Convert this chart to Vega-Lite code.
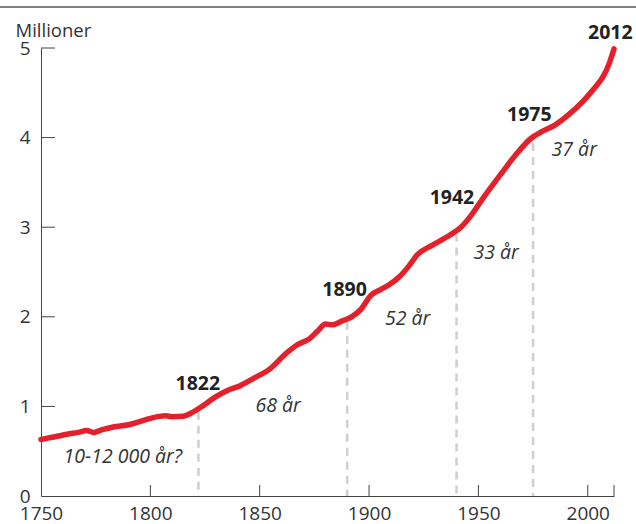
{
  "$schema": "https://vega.github.io/schema/vega-lite/v6.json",
  "width": 573,
  "height": 448,
  "autosize": {"type": "none"},
  "padding": {"left": 41, "top": 48, "right": 22, "bottom": 28},
  "background": "white",
  "config": {
    "view": {"stroke": null},
    "font": "Open Sans",
    "axis": {"labelFont": "Open Sans", "titleFont": "Open Sans", "grid": false}
  },
  "datasets": {
    "pop": [
      {"year": 1750, "value": 0.63},
      {"year": 1755, "value": 0.655},
      {"year": 1762, "value": 0.69},
      {"year": 1767, "value": 0.71},
      {"year": 1771, "value": 0.73},
      {"year": 1774, "value": 0.71},
      {"year": 1778, "value": 0.74},
      {"year": 1783, "value": 0.77},
      {"year": 1790, "value": 0.795},
      {"year": 1795, "value": 0.83},
      {"year": 1800, "value": 0.867},
      {"year": 1807, "value": 0.895},
      {"year": 1810, "value": 0.885},
      {"year": 1815, "value": 0.89},
      {"year": 1819, "value": 0.93},
      {"year": 1823, "value": 0.99},
      {"year": 1830, "value": 1.108},
      {"year": 1835, "value": 1.175},
      {"year": 1841, "value": 1.23},
      {"year": 1847, "value": 1.31},
      {"year": 1855, "value": 1.425},
      {"year": 1862, "value": 1.59},
      {"year": 1867, "value": 1.685},
      {"year": 1873, "value": 1.76},
      {"year": 1877, "value": 1.853},
      {"year": 1880, "value": 1.92},
      {"year": 1883, "value": 1.91},
      {"year": 1888, "value": 1.957},
      {"year": 1892, "value": 2.0},
      {"year": 1896, "value": 2.076},
      {"year": 1901, "value": 2.243},
      {"year": 1905, "value": 2.3},
      {"year": 1909, "value": 2.355},
      {"year": 1914, "value": 2.45},
      {"year": 1918, "value": 2.56},
      {"year": 1922, "value": 2.69},
      {"year": 1929, "value": 2.8},
      {"year": 1937, "value": 2.913},
      {"year": 1942, "value": 3.0},
      {"year": 1946, "value": 3.11},
      {"year": 1952, "value": 3.32},
      {"year": 1960, "value": 3.583},
      {"year": 1967, "value": 3.806},
      {"year": 1974, "value": 3.99},
      {"year": 1979, "value": 4.066},
      {"year": 1985, "value": 4.14},
      {"year": 1991, "value": 4.25},
      {"year": 1998, "value": 4.41},
      {"year": 2003, "value": 4.55},
      {"year": 2007, "value": 4.68},
      {"year": 2010, "value": 4.84},
      {"year": 2012, "value": 4.99}
    ],
    "drops": [
      {"year": 1822, "top": 0.94, "base": 0},
      {"year": 1890, "top": 1.945, "base": 0},
      {"year": 1940, "top": 2.93, "base": 0},
      {"year": 1975, "top": 3.94, "base": 0}
    ],
    "labels": [
      {"year": 1821.7, "value": 1.25, "text": "1822", "kind": "year"},
      {"year": 1888.8, "value": 2.3, "text": "1890", "kind": "year"},
      {"year": 1937.9, "value": 3.33, "text": "1942", "kind": "year"},
      {"year": 1973.3, "value": 4.25, "text": "1975", "kind": "year"},
      {"year": 2010.3, "value": 5.17, "text": "2012", "kind": "year"},
      {"year": 1858.4, "value": 1.0, "text": "68 år", "kind": "span"},
      {"year": 1917.6, "value": 1.97, "text": "52 år", "kind": "span"},
      {"year": 1958.1, "value": 2.71, "text": "33 år", "kind": "span"},
      {"year": 1993.8, "value": 3.86, "text": "37 år", "kind": "span"},
      {"year": 1787.4, "value": 0.435, "text": "10-12 000 år?", "kind": "span"}
    ],
    "xticks": [
      {"year": 1800, "y1": 0, "y2": 0.123},
      {"year": 1850, "y1": 0, "y2": 0.123},
      {"year": 1900, "y1": 0, "y2": 0.123},
      {"year": 1950, "y1": 0, "y2": 0.123},
      {"year": 2000, "y1": 0, "y2": 0.123},
      {"year": 2012, "y1": 0, "y2": 0.123}
    ],
    "yticks": [
      {"value": 1, "x1": 1750, "x2": 1756.4},
      {"value": 2, "x1": 1750, "x2": 1756.4},
      {"value": 3, "x1": 1750, "x2": 1756.4},
      {"value": 4, "x1": 1750, "x2": 1756.4},
      {"value": 5, "x1": 1750, "x2": 1756.4}
    ],
    "frame": [
      {"x1": 1731, "x2": 2023, "y": 5.458}
    ]
  },
  "layer": [
    {
      "data": {"name": "drops"},
      "mark": {"type": "rule", "color": "#cfcfcf", "strokeWidth": 2.5, "strokeDash": [8, 6]},
      "encoding": {
        "x": {"field": "year", "type": "quantitative", "scale": {"domain": [1750, 2012], "nice": false, "zero": false},
          "axis": {
            "values": [1750, 1800, 1850, 1900, 1950, 2000],
            "format": "d",
            "title": null,
            "domainColor": "#444",
            "ticks": false,
            "labelPadding": 8,
            "labelFontSize": 19,
            "labelColor": "#333",
            "labelFlush": false
          }},
        "y": {"field": "top", "type": "quantitative", "scale": {"domain": [0, 5], "nice": false},
          "axis": {
            "values": [0, 1, 2, 3, 4, 5],
            "format": "d",
            "title": "Millioner",
            "titleAngle": 0,
            "titleAlign": "left",
            "titleBaseline": "alphabetic",
            "titleX": -26,
            "titleY": -12,
            "titleFontSize": 18.5,
            "titleFontWeight": "normal",
            "titleColor": "#333",
            "domainColor": "#444",
            "ticks": false,
            "labelPadding": 11,
            "labelOffset": 0,
            "labelFontSize": 19,
            "labelColor": "#333"
          }},
        "y2": {"field": "base"}
      }
    },
    {
      "data": {"name": "xticks"},
      "mark": {"type": "rule", "color": "#444", "strokeWidth": 1},
      "encoding": {
        "x": {"field": "year", "type": "quantitative"},
        "y": {"field": "y1", "type": "quantitative"},
        "y2": {"field": "y2"}
      }
    },
    {
      "data": {"name": "yticks"},
      "mark": {"type": "rule", "color": "#444", "strokeWidth": 1},
      "encoding": {
        "x": {"field": "x1", "type": "quantitative"},
        "x2": {"field": "x2"},
        "y": {"field": "value", "type": "quantitative"}
      }
    },
    {
      "data": {"name": "pop"},
      "mark": {"type": "line", "color": "#e4202a", "strokeWidth": 5.5, "strokeCap": "round", "strokeJoin": "round", "interpolate": "monotone"},
      "encoding": {
        "x": {"field": "year", "type": "quantitative"},
        "y": {"field": "value", "type": "quantitative"}
      }
    },
    {
      "data": {"name": "labels"},
      "transform": [{"filter": "datum.kind == 'year'"}],
      "mark": {"type": "text", "fontSize": 19.5, "fontWeight": "bold", "color": "#222", "align": "center", "baseline": "middle"},
      "encoding": {
        "x": {"field": "year", "type": "quantitative"},
        "y": {"field": "value", "type": "quantitative"},
        "text": {"field": "text"}
      }
    },
    {
      "data": {"name": "labels"},
      "transform": [{"filter": "datum.kind == 'span'"}],
      "mark": {"type": "text", "fontSize": 19.5, "fontStyle": "italic", "color": "#333", "align": "center", "baseline": "middle"},
      "encoding": {
        "x": {"field": "year", "type": "quantitative"},
        "y": {"field": "value", "type": "quantitative"},
        "text": {"field": "text"}
      }
    },
    {
      "data": {"name": "frame"},
      "mark": {"type": "rule", "color": "#555", "strokeWidth": 1.5},
      "encoding": {
        "x": {"field": "x1", "type": "quantitative"},
        "x2": {"field": "x2"},
        "y": {"field": "y", "type": "quantitative"}
      }
    }
  ]
}
